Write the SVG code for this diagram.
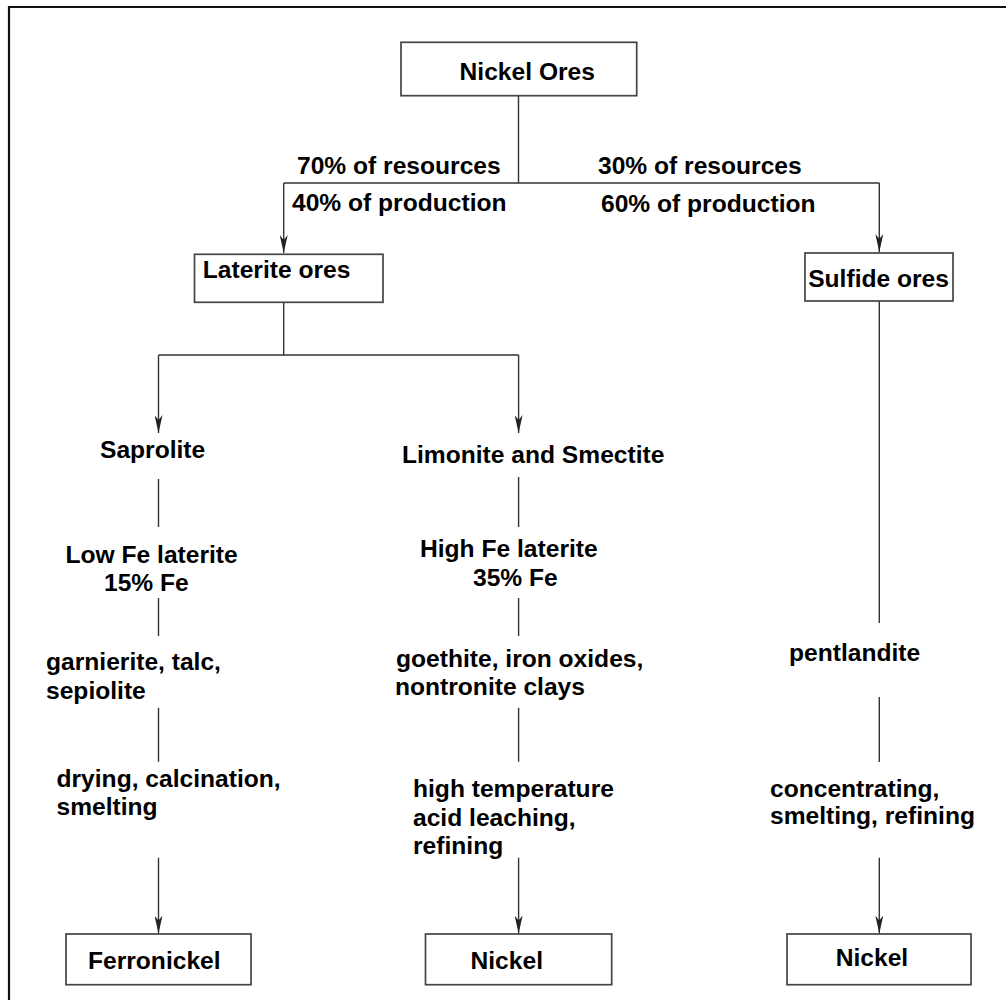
<svg xmlns="http://www.w3.org/2000/svg" width="1006" height="1000" viewBox="0 0 1006 1000">
<defs>
<marker id="arr" markerUnits="userSpaceOnUse" viewBox="0 0 18 8" refX="18" refY="4" markerWidth="18" markerHeight="8" orient="auto">
<path d="M0,0 L18,4 L0,8 L5,4 Z" fill="#222"/>
</marker>
</defs>
<style>
text{font-family:"Liberation Sans",Arial,sans-serif;font-weight:bold;font-size:24.6px;fill:#000}
.box{fill:#fff;stroke:#444;stroke-width:1.7}
.ln{fill:none;stroke:#333;stroke-width:1.4}
.ar{fill:none;stroke:#333;stroke-width:1.4;marker-end:url(#arr)}
</style>
<rect width="1006" height="1000" fill="#fff"/>
<path d="M9,1000 V7 H1006" fill="none" stroke="#111" stroke-width="2.2"/>

<g id="connectors">
<path class="ln" d="M518.5,95.7 V183 M283.7,183 H879.3"/>
<path class="ar" d="M283.7,183 V253"/>
<path class="ar" d="M879.3,183 V252"/>
<path class="ln" d="M283.7,302.3 V355 M158.5,355 H518.6"/>
<path class="ar" d="M158.5,355 V433"/>
<path class="ar" d="M518.6,355 V433"/>
<path class="ln" d="M158.5,479 V527 M158.5,598 V636 M158.5,707.7 V761.7"/>
<path class="ar" d="M158.5,857.7 V933.5"/>
<path class="ln" d="M518.6,477 V527 M518.6,598 V636 M518.6,707.7 V761.7"/>
<path class="ar" d="M518.6,857.7 V933.5"/>
<path class="ln" d="M879.3,301 V623 M879.3,697 V762"/>
<path class="ar" d="M879.3,857.7 V933.5"/>
</g>

<g id="edge-labels">
<text x="297" y="174">70% of resources</text>
<text x="292" y="211">40% of production</text>
<text x="598" y="174">30% of resources</text>
<text x="601" y="212">60% of production</text>
</g>

<g id="node-nickel-ores">
<rect class="box" x="401" y="42.3" width="235.7" height="53.4"/>
<text x="459.6" y="80">Nickel Ores</text>
</g>
<g id="node-laterite">
<rect class="box" x="194.5" y="254.3" width="188.5" height="48"/>
<text x="202.8" y="278.3">Laterite ores</text>
</g>
<g id="node-sulfide">
<rect class="box" x="805" y="253" width="148" height="48"/>
<text x="808.2" y="286.7">Sulfide ores</text>
</g>

<g id="node-saprolite"><text x="100" y="458">Saprolite</text></g>
<g id="node-limonite"><text x="402" y="462.5">Limonite and Smectite</text></g>
<g id="node-lowfe"><text x="65.5" y="563">Low Fe laterite</text><text x="104" y="591">15% Fe</text></g>
<g id="node-highfe"><text x="420" y="557">High Fe laterite</text><text x="473" y="585.5">35% Fe</text></g>
<g id="node-garnierite"><text x="46" y="670">garnierite, talc,</text><text x="46" y="699">sepiolite</text></g>
<g id="node-goethite"><text x="396" y="667">goethite, iron oxides,</text><text x="395" y="695">nontronite clays</text></g>
<g id="node-pentlandite"><text x="789" y="660.5">pentlandite</text></g>
<g id="node-drying"><text x="56.5" y="786.5">drying, calcination,</text><text x="56.5" y="815">smelting</text></g>
<g id="node-hpal"><text x="413" y="797">high temperature</text><text x="413" y="825.7">acid leaching,</text><text x="413" y="854">refining</text></g>
<g id="node-concentrating"><text x="770" y="796.7">concentrating,</text><text x="770" y="824">smelting, refining</text></g>

<g id="node-ferronickel">
<rect class="box" x="66" y="934" width="185" height="50.7"/>
<text x="88" y="969">Ferronickel</text>
</g>
<g id="node-nickel-mid">
<rect class="box" x="425.5" y="934" width="186.2" height="50.7"/>
<text x="470.5" y="969">Nickel</text>
</g>
<g id="node-nickel-right">
<rect class="box" x="787" y="934" width="184" height="50.7"/>
<text x="835.7" y="966">Nickel</text>
</g>
</svg>
